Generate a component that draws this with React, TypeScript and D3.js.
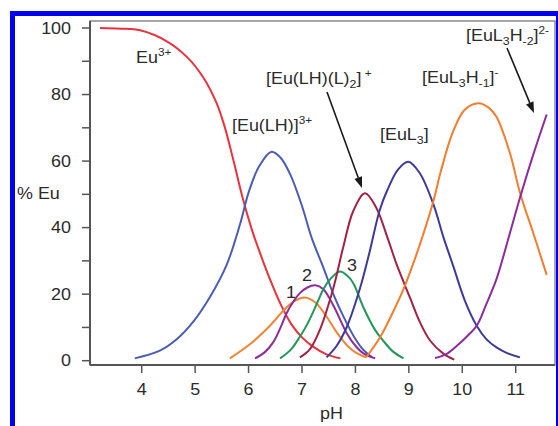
import React from "react";
import * as d3 from "d3";

const xTicks = [4, 5, 6, 7, 8, 9, 10, 11];
const yMajor = [0, 20, 40, 60, 80, 100];
const yMinor = [10, 30, 50, 70, 90];

const euFree: [number, number][] = [
  [3.22, 100], [3.6, 99.8], [3.97, 99.3], [4.47, 96], [4.84, 91.4], [5.15, 85.2],
  [5.4, 77.5], [5.55, 70.5], [5.72, 60], [5.9, 48.3], [6.05, 40], [6.2, 33],
  [6.4, 24.5], [6.6, 17], [6.8, 11], [7.0, 7], [7.2, 4.3], [7.45, 2], [7.72, 0.7],
];
const euLH: [number, number][] = [
  [3.87, 0.7], [4.34, 3.0], [4.66, 6.5], [4.97, 11.8], [5.28, 19.2], [5.59, 28.8],
  [5.84, 41], [6.0, 50.5], [6.2, 58.5], [6.43, 62.8], [6.6, 61], [6.78, 56],
  [7.0, 46.5], [7.18, 37], [7.4, 28], [7.6, 19.5], [7.8, 12.5], [8.0, 6.5],
  [8.15, 3.2], [8.3, 1.2],
];
const species1: [number, number][] = [
  [5.65, 0.7], [6.03, 5], [6.4, 10.5], [6.65, 15], [6.85, 17.8], [7.05, 19],
  [7.25, 17.5], [7.45, 13.5], [7.65, 8.5], [7.85, 4.5], [8.0, 2.5], [8.2, 1],
];
const species2: [number, number][] = [
  [6.12, 0.7], [6.3, 2.5], [6.46, 5.5], [6.6, 10], [6.71, 14.2], [6.85, 18],
  [6.96, 20.3], [7.1, 22], [7.25, 22.7], [7.4, 21.5], [7.59, 16.5], [7.84, 8.2],
  [8.0, 4.5], [8.15, 2.2], [8.37, 0.7],
];
const species3: [number, number][] = [
  [6.59, 0.7], [6.8, 3.5], [6.96, 7.2], [7.1, 11], [7.28, 17.2], [7.4, 21.5],
  [7.53, 24.5], [7.71, 26.8], [7.85, 25.5], [7.96, 23.3], [8.15, 16], [8.37, 9.2],
  [8.52, 6], [8.7, 2.8], [8.9, 0.7],
];
const euLHL2: [number, number][] = [
  [6.96, 1], [7.15, 3.5], [7.34, 9.5], [7.59, 22], [7.77, 34], [7.96, 45],
  [8.18, 50.3], [8.39, 46], [8.6, 37], [8.77, 29], [9.02, 19], [9.21, 11.5],
  [9.4, 6], [9.64, 2.2], [9.85, 0.3],
];
const euL3: [number, number][] = [
  [7.46, 1], [7.65, 4.5], [7.84, 10.2], [8.09, 22], [8.27, 33], [8.45, 45],
  [8.59, 51], [8.8, 57.5], [8.99, 59.8], [9.2, 56.5], [9.46, 47], [9.65, 37],
  [9.83, 28.5], [10.05, 18], [10.27, 10.5], [10.45, 6.5], [10.64, 4], [10.85, 2.2],
  [11.08, 1],
];
const euL3H1: [number, number][] = [
  [8.2, 1], [8.46, 7], [8.7, 14.5], [8.9, 21.5], [9.1, 30], [9.27, 38],
  [9.46, 48], [9.6, 57], [9.83, 69], [10.05, 75.5], [10.3, 77.4], [10.5, 76],
  [10.64, 73.3], [10.89, 62.5], [11.08, 50.5], [11.33, 38.3], [11.58, 25.8],
];
const euL3H2: [number, number][] = [
  [9.49, 0.8], [9.7, 2], [9.9, 4.5], [10.1, 7.5], [10.27, 10.5], [10.45, 17],
  [10.64, 24.5], [10.85, 36], [11.08, 49], [11.33, 62], [11.58, 74],
];

const seriesList: { data: [number, number][]; color: string }[] = [
  { data: euFree, color: "#e8323c" },
  { data: euLH, color: "#4b5cb5" },
  { data: species1, color: "#f08536" },
  { data: species2, color: "#8e2c98" },
  { data: species3, color: "#21975a" },
  { data: euLHL2, color: "#a32244" },
  { data: euL3, color: "#3c3c98" },
  { data: euL3H1, color: "#f27d2e" },
  { data: euL3H2, color: "#8a2c9c" },
];

type Part = [string, "n" | "sup" | "sub"];
const speciesLabels: { x0: number; y0: number; parts: Part[] }[] = [
  { x0: 136, y0: 63, parts: [["Eu", "n"], ["3+", "sup"]] },
  { x0: 232, y0: 131, parts: [["[Eu(LH)]", "n"], ["3+", "sup"]] },
  { x0: 266, y0: 84, parts: [["[Eu(LH)(L)", "n"], ["2", "sub"], ["]", "n"], [" +", "sup"]] },
  { x0: 380, y0: 140, parts: [["[EuL", "n"], ["3", "sub"], ["]", "n"]] },
  { x0: 422, y0: 83, parts: [["[EuL", "n"], ["3", "sub"], ["H", "n"], ["-1", "sub"], ["]", "n"], ["-", "sup"]] },
  { x0: 466, y0: 41, parts: [["[EuL", "n"], ["3", "sub"], ["H", "n"], ["-2", "sub"], ["]", "n"], ["2-", "sup"]] },
  { x0: 286, y0: 298, parts: [["1", "n"]] },
  { x0: 302, y0: 281, parts: [["2", "n"]] },
  { x0: 347, y0: 271, parts: [["3", "n"]] },
];

const W = 558;
const H = 426;
const left = 90, right = 555, top = 21, bottom = 365;
const x = d3.scaleLinear().domain([4, 11]).range([141.7, 515.7]);
const y = d3.scaleLinear().domain([0, 100]).range([360.7, 28]);

const line = d3
  .line<[number, number]>()
  .x((d) => x(d[0]))
  .y((d) => y(d[1]))
  .curve(d3.curveCatmullRom.alpha(0.5));

const FONT = "'Liberation Sans', Arial, Helvetica, sans-serif";
const TXT = "#2b2b2b";
const SX = 1.12;

const OFF: Record<string, number> = { n: 0, sup: -7, sub: 4 };
const SIZE: Record<string, number> = { n: 16, sup: 10.5, sub: 11 };

function Lbl({ x0, y0, anchor = "start", parts }: { x0: number; y0: number; anchor?: string; parts: Part[] }) {
  let prev = 0;
  return (
    <g transform={`translate(${x0},${y0}) scale(${SX},1)`}>
      <text x={0} y={0} textAnchor={anchor} fontFamily={FONT} fontSize={16} fill={TXT}>
        {parts.map(([t, k], i) => {
          const dy = OFF[k] - prev;
          prev = OFF[k];
          return (
            <tspan key={i} dy={dy} fontSize={SIZE[k]}>
              {t}
            </tspan>
          );
        })}
      </text>
    </g>
  );
}

function Arrow({ x1, y1, x2, y2 }: { x1: number; y1: number; x2: number; y2: number }) {
  const ang = Math.atan2(y2 - y1, x2 - x1);
  const len = 11, hw = 4;
  const bx = x2 - len * Math.cos(ang), by = y2 - len * Math.sin(ang);
  const px = -Math.sin(ang) * hw, py = Math.cos(ang) * hw;
  return (
    <g>
      <line x1={x1} y1={y1} x2={bx} y2={by} stroke="#1a1a1a" strokeWidth={1.6} />
      <path d={`M${x2},${y2}L${bx + px},${by + py}L${bx - px},${by - py}Z`} fill="#1a1a1a" />
    </g>
  );
}

export default function App() {
  return (
    <svg
      width={W}
      height={H}
      viewBox={`0 0 ${W} ${H}`}
      style={{ position: "absolute", left: 0, top: 0, display: "block", background: "#fff" }}
    >
      <rect x={12.5} y={13.5} width={546} height={440} fill="#fff" stroke="#0000f0" strokeWidth={5} />
      <rect x={left} y={top} width={right - left} height={bottom - top} fill="none" stroke="#777" strokeWidth={1.3} />
      <line x1={left} y1={top} x2={left} y2={bottom} stroke="#555" strokeWidth={2} />
      <line x1={left} y1={bottom} x2={right} y2={bottom} stroke="#555" strokeWidth={2} />

      {yMajor.concat(yMinor).map((v) => (
        <line key={"yt" + v} x1={82} x2={left} y1={y(v)} y2={y(v)} stroke="#555" strokeWidth={1.5} />
      ))}
      {yMajor.map((v) => (
        <Lbl key={"yl" + v} x0={71} y0={y(v) + 5.5} anchor="end" parts={[[String(v), "n"]]} />
      ))}
      {xTicks.map((v) => (
        <g key={"xt" + v}>
          <line x1={x(v)} x2={x(v)} y1={bottom} y2={373} stroke="#555" strokeWidth={1.5} />
          <Lbl x0={x(v)} y0={395} anchor="middle" parts={[[String(v), "n"]]} />
        </g>
      ))}
      <Lbl x0={331.5} y0={419} anchor="middle" parts={[["pH", "n"]]} />
      <Lbl x0={17} y0={199} parts={[["% Eu", "n"]]} />

      {seriesList.map((s, i) => (
        <path key={"s" + i} d={line(s.data) || ""} fill="none" stroke={s.color} strokeWidth={2} strokeLinejoin="round" />
      ))}

      {speciesLabels.map((l, i) => (
        <Lbl key={"lab" + i} x0={l.x0} y0={l.y0} parts={l.parts} />
      ))}

      <Arrow x1={327} y1={92} x2={362} y2={188} />
      <Arrow x1={507} y1={48} x2={534} y2={113} />
    </svg>
  );
}
